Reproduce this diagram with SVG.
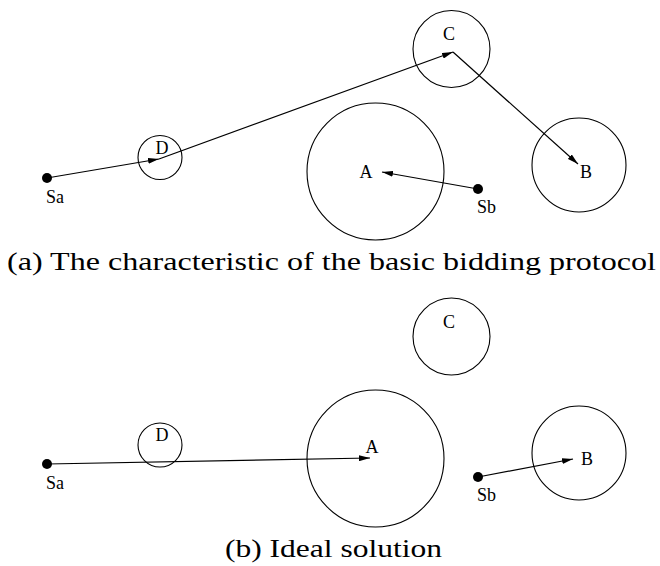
<svg xmlns="http://www.w3.org/2000/svg" width="660" height="566" viewBox="0 0 660 566">
<style>
.c{fill:none;stroke:#000;stroke-width:1.1}
.e{fill:none;stroke:#000;stroke-width:1.2}
.dot{fill:#000}
.l{font-size:18px;fill:#000}
.cap{font-size:25px;fill:#000}
</style>
<defs>
<marker id="ah" markerUnits="userSpaceOnUse" markerWidth="11" markerHeight="6" refX="11" refY="3" orient="auto">
<path d="M0,0 L11,3 L0,6 z" fill="#000"/>
</marker>
</defs>
<rect width="660" height="566" fill="#fff"/>

<g font-family="'Liberation Serif', Tinos, 'Times New Roman', serif">
<g id="top">
<g id="a-A"><circle class="c" cx="375.5" cy="171.5" r="68.5"/><text class="l" x="366" y="178" text-anchor="middle">A</text></g>
<g id="a-B"><circle class="c" cx="579" cy="165" r="47"/><text class="l" x="586" y="178" text-anchor="middle">B</text></g>
<g id="a-C"><circle class="c" cx="451.5" cy="49" r="38.5"/><text class="l" x="449" y="40" text-anchor="middle">C</text></g>
<g id="a-D"><circle class="c" cx="160" cy="157.5" r="22"/><text class="l" x="162" y="154" text-anchor="middle">D</text></g>
<g id="a-Sa"><circle class="dot" cx="47" cy="178" r="5"/><text class="l" x="46" y="203">Sa</text></g>
<g id="a-Sb"><circle class="dot" cx="478" cy="189" r="5"/><text class="l" x="477" y="213">Sb</text></g>
</g>

<g id="bottom">
<g id="b-A"><circle class="c" cx="375.5" cy="458.5" r="68.5"/><text class="l" x="372" y="453" text-anchor="middle">A</text></g>
<g id="b-B"><circle class="c" cx="579" cy="453" r="47"/><text class="l" x="587" y="465" text-anchor="middle">B</text></g>
<g id="b-C"><circle class="c" cx="451.5" cy="336.5" r="38.5"/><text class="l" x="449" y="328" text-anchor="middle">C</text></g>
<g id="b-D"><circle class="c" cx="160" cy="445" r="22"/><text class="l" x="162" y="441" text-anchor="middle">D</text></g>
<g id="b-Sa"><circle class="dot" cx="47" cy="464" r="5"/><text class="l" x="46" y="489">Sa</text></g>
<g id="b-Sb"><circle class="dot" cx="478" cy="477" r="5"/><text class="l" x="477" y="501">Sb</text></g>
</g>

<text class="cap" x="7" y="270" textLength="649" lengthAdjust="spacingAndGlyphs">(a) The characteristic of the basic bidding protocol</text>
<text class="cap" x="225" y="557" textLength="217" lengthAdjust="spacingAndGlyphs">(b) Ideal solution</text>
</g>

<g id="connectors">
<line class="e" x1="47" y1="178" x2="159" y2="159" marker-end="url(#ah)"/>
<line class="e" x1="159" y1="159" x2="453" y2="52" marker-end="url(#ah)"/>
<line class="e" x1="453" y1="52" x2="578" y2="164" marker-end="url(#ah)"/>
<line class="e" x1="478" y1="189" x2="382" y2="172" marker-end="url(#ah)"/>
<line class="e" x1="47" y1="464" x2="370" y2="458" marker-end="url(#ah)"/>
<line class="e" x1="478" y1="477" x2="573" y2="459" marker-end="url(#ah)"/>
</g>
</svg>
